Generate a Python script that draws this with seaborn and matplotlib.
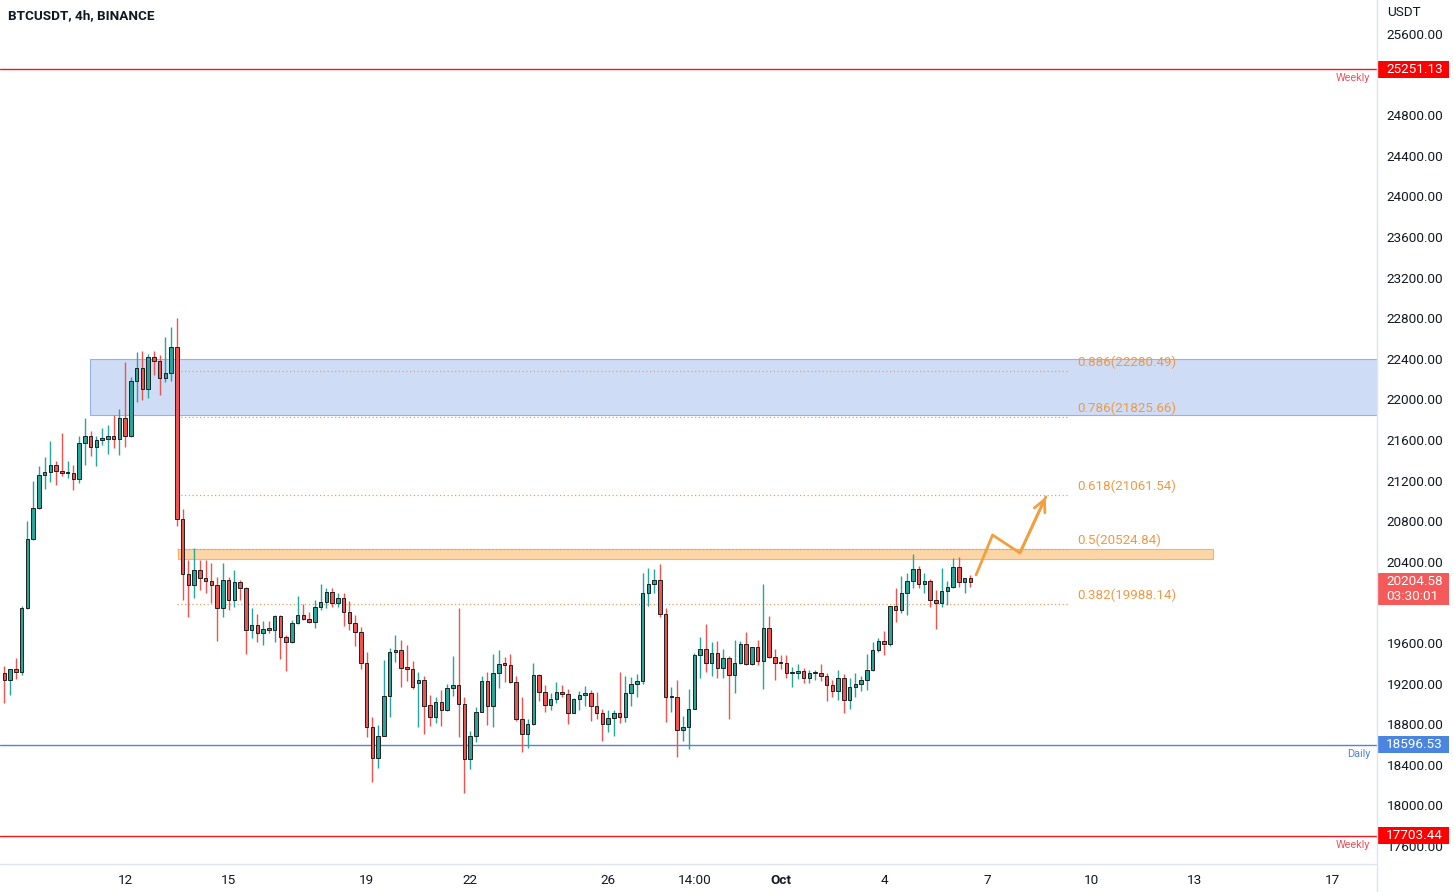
import numpy as np
import pandas as pd
import matplotlib
matplotlib.use("Agg")
import matplotlib.pyplot as plt
import matplotlib.transforms as mtransforms
from matplotlib.patches import Rectangle
from matplotlib.lines import Line2D
import seaborn as sns

# ---------------- data ----------------
start_time = "2022-09-08 14:00"
opens = [19300, 19240, 19340, 19310, 19940, 20620, 20930, 21255, 21285, 21355,
         21290, 21270, 21275, 21215, 21570, 21640, 21530, 21600, 21610, 21640,
         21610, 21820, 21640, 22180, 22305, 22100, 22415, 22380, 22215, 22265,
         22515, 20820, 20280, 20170, 20320, 20240, 20215, 20170, 19940, 20220,
         20020, 20200, 20140, 19730, 19775, 19695, 19740, 19730, 19865, 19660,
         19605, 19795, 19875, 19835, 19805, 19950, 20005, 20100, 19990, 20040,
         19910, 19800, 19710, 19405, 18770, 18465, 18685, 19080, 19515, 19535,
         19350, 19345, 19210, 19235, 18985, 18870, 19020, 18935, 19155, 19185,
         18995, 18455, 18685, 18925, 19225, 18975, 19300, 19390, 19385, 19215,
         18850, 18700, 18800, 19280, 19115, 18985, 19045, 19115, 19095, 18910,
         19045, 19085, 19105, 18975, 18910, 18800, 18860, 18910, 18870, 19105,
         19195, 19225, 20090, 20180, 20220, 19885, 19065, 19065, 18740, 18770,
         18950, 19480, 19540, 19400, 19500, 19350, 19450, 19280, 19400, 19590,
         19390, 19560, 19425, 19745, 19465, 19410, 19400, 19300, 19300, 19325,
         19260, 19300, 19300, 19270, 19185, 19130, 19255, 19040, 19165, 19195,
         19235, 19330, 19530, 19615, 19590, 19965, 19930, 20090, 20210, 20325,
         20180, 20215, 20025, 19990, 20115, 20150, 20345, 20205, 20240]
highs = [19375, 19340, 19455, 19965, 20800, 21200, 21340, 21435, 21590, 21390,
         21670, 21390, 21355, 21640, 21815, 21685, 21640, 21715, 21750, 21850,
         21905, 22370, 22225, 22465, 22480, 22445, 22480, 22440, 22610, 22710,
         22800, 20920, 20420, 20535, 20420, 20420, 20385, 20250, 20385, 20250,
         20320, 20220, 20150, 19940, 19890, 19815, 19820, 19880, 19875, 19680,
         19825, 20065, 19985, 19910, 20025, 20180, 20140, 20140, 20090, 20090,
         20015, 19875, 19755, 19515, 18870, 18795, 19435, 19550, 19680, 19630,
         19580, 19425, 19310, 19270, 19085, 19070, 19135, 19195, 19470, 19940,
         19070, 18730, 18965, 19275, 19310, 19490, 19530, 19460, 19490, 19270,
         19070, 18850, 19405, 19290, 19190, 19110, 19220, 19190, 19145, 19060,
         19130, 19175, 19135, 19120, 18950, 18940, 18940, 19310, 19270, 19265,
         19295, 20285, 20335, 20325, 20380, 19940, 19170, 19235, 18880, 19145,
         19500, 19660, 19790, 19605, 19620, 19540, 19470, 19630, 19620, 19705,
         19560, 19630, 20180, 19865, 19540, 19480, 19480, 19360, 19390, 19350,
         19335, 19335, 19395, 19300, 19240, 19335, 19295, 19255, 19300, 19270,
         19490, 19605, 19645, 19715, 19965, 20140, 20260, 20285, 20475, 20360,
         20285, 20235, 20125, 20335, 20210, 20435, 20445, 20240, 20270]
lows = [19010, 19090, 19250, 19285, 19935, 20610, 20920, 21120, 21185, 21160,
        21250, 21225, 21110, 21175, 21355, 21440, 21345, 21550, 21460, 21525,
        21450, 21535, 21630, 21970, 21995, 22010, 22240, 22045, 22175, 22180,
        20750, 20025, 19860, 20040, 20120, 20090, 19990, 19615, 19855, 19925,
        19950, 20025, 19490, 19645, 19605, 19580, 19700, 19605, 19440, 19320,
        19600, 19790, 19825, 19800, 19745, 19930, 19940, 19950, 19950, 19765,
        19730, 19570, 19340, 18670, 18235, 18365, 18680, 18875, 19415, 19170,
        19230, 19145, 18775, 18700, 18780, 18810, 18785, 18930, 19080, 18670,
        18125, 18355, 18620, 18920, 18790, 18775, 19155, 19220, 19205, 18835,
        18530, 18570, 18790, 19030, 18925, 18935, 19010, 19070, 18800, 18910,
        18935, 18980, 18835, 18850, 18630, 18720, 18680, 18810, 18825, 18975,
        19070, 19195, 19965, 20090, 19860, 18820, 18925, 18475, 18630, 18560,
        18945, 19255, 19310, 19275, 19260, 19260, 18850, 19110, 19390, 19385,
        19380, 19385, 19145, 19450, 19235, 19340, 19260, 19165, 19245, 19205,
        19210, 19240, 19230, 19030, 19070, 19040, 18915, 18945, 19070, 19130,
        19135, 19320, 19510, 19480, 19570, 19810, 19900, 19875, 20140, 20140,
        20090, 19950, 19735, 19950, 19970, 20140, 20155, 20090, 20155]
closes = [19240, 19340, 19310, 19940, 20620, 20930, 21255, 21285, 21355, 21290,
          21270, 21275, 21215, 21570, 21640, 21530, 21600, 21610, 21640, 21610,
          21820, 21640, 22180, 22305, 22100, 22415, 22380, 22215, 22265, 22515,
          20820, 20280, 20170, 20320, 20240, 20215, 20170, 19940, 20220, 20020,
          20200, 20140, 19730, 19775, 19695, 19740, 19730, 19865, 19660, 19605,
          19795, 19875, 19835, 19805, 19950, 20005, 20100, 19990, 20040, 19910,
          19800, 19710, 19405, 18770, 18465, 18685, 19080, 19515, 19535, 19350,
          19345, 19165, 19235, 18980, 18870, 19020, 18935, 19155, 19185, 18995,
          18455, 18685, 18925, 19225, 18975, 19300, 19390, 19385, 19215, 18850,
          18700, 18800, 19280, 19115, 18985, 19045, 19115, 19095, 18910, 19045,
          19085, 19105, 18975, 18910, 18800, 18860, 18910, 18870, 19105, 19195,
          19225, 20090, 20180, 20220, 19885, 19065, 19070, 18740, 18770, 18950,
          19480, 19540, 19400, 19500, 19350, 19450, 19280, 19400, 19590, 19390,
          19560, 19425, 19745, 19465, 19405, 19400, 19300, 19302, 19325, 19260,
          19300, 19302, 19270, 19185, 19130, 19255, 19040, 19165, 19195, 19235,
          19330, 19530, 19615, 19590, 19965, 19930, 20090, 20210, 20325, 20180,
          20215, 20025, 19990, 20115, 20150, 20345, 20205, 20240, 20205]

tick_dates = ["2022-09-12 02:00", "2022-09-15 02:00", "2022-09-19 02:00",
              "2022-09-22 02:00", "2022-09-26 02:00", "2022-09-28 14:00",
              "2022-10-01 02:00", "2022-10-04 02:00", "2022-10-07 02:00",
              "2022-10-10 02:00", "2022-10-13 02:00", "2022-10-17 02:00"]
tick_labels = ["12", "15", "19", "22", "26", "14:00", "Oct", "4", "7", "10", "13", "17"]

price_ticks = list(range(17600, 25601, 400))
hidden_ticks = [25200, 20000]  # covered by the price tags

fib_ratios = ["0.886", "0.786", "0.618", "0.5", "0.382"]
fib_levels = [22280.49, 21825.66, 21061.54, 20524.84, 19988.14]
fib_start, fib_end, fib_label_at = "2022-09-13 14:00", "2022-10-09 10:00", "2022-10-09 16:30"

weekly_levels = [25251.13, 17703.44]
daily_level = 18596.53
last_price = 20204.58
countdown = "03:30:01"

blue_zone = [21850, 22400]
blue_zone_span = ["2022-09-11 01:30", "2022-10-25 00:00"]
orange_zone = [20430, 20525]
orange_zone_span = ["2022-09-13 14:45", "2022-10-13 14:45"]

proj_dates = ["2022-10-06 18:00", "2022-10-07 05:30", "2022-10-08 00:30", "2022-10-08 18:30"]
proj_prices = [20270, 20664, 20487, 21039]

# ---------------- setup ----------------
sns.set_theme(style="white")
plt.rcParams["font.family"] = ["Roboto", "DejaVu Sans"]

t0 = pd.Timestamp(start_time)
step = pd.Timedelta(hours=4)


def to_idx(d):
    return (pd.to_datetime(d) - t0) / step


df = pd.DataFrame({
    "time": pd.date_range(start_time, periods=len(opens), freq="4h"),
    "open": opens, "high": highs, "low": lows, "close": closes,
})
df["x"] = to_idx(df["time"])
df["up"] = df["close"] >= df["open"]

W, H = 1454, 892
fig = plt.figure(figsize=(W / 100, H / 100), dpi=100)
fig.patch.set_facecolor("white")
ax_right = 1377
ax_bottom = 28
ax = fig.add_axes([0, ax_bottom / H, ax_right / W, (H - ax_bottom) / H])
ax.set_facecolor("white")

px_per_price = 812 / 8000.0
y_top = 25600 + 34 / px_per_price
y_bot = 25600 - (864 - 34) / px_per_price
ax.set_ylim(y_bot, y_top)
ax.set_xlim(-0.748, 238.73)
ppx = 1 / px_per_price  # price units per pixel

UP, DN = "#26a69a", "#ef5350"

# zones
bz0, bz1 = to_idx(blue_zone_span[0]), to_idx(blue_zone_span[1])
ax.add_patch(Rectangle((bz0, blue_zone[0]), bz1 - bz0, blue_zone[1] - blue_zone[0],
                       facecolor="#cfdcf6", edgecolor="#93b2ea", lw=0.8, zorder=1))
oz0, oz1 = to_idx(orange_zone_span[0]), to_idx(orange_zone_span[1])
ax.add_patch(Rectangle((oz0, orange_zone[0]), oz1 - oz0, orange_zone[1] - orange_zone[0],
                       facecolor="#fdd6a8", edgecolor="#f6b36a", lw=0.8, zorder=1))

# fib levels
fx0, fx1, fxl = to_idx(fib_start), to_idx(fib_end), to_idx(fib_label_at)
for r, lv in zip(fib_ratios, fib_levels):
    ax.plot([fx0, fx1], [lv, lv], color="#e9a060", lw=0.9, ls=(0, (1, 2)), zorder=1.5)
    ax.annotate(f"{r}({lv:.2f})", xy=(fxl, lv), xytext=(0, 2), textcoords="offset pixels",
                ha="left", va="bottom", fontsize=9.6, color="#ee9a45", zorder=4)

# horizontal levels
for lv in weekly_levels:
    ax.axhline(lv, color="#f01820", lw=1.0, zorder=1.6)
ax.axhline(daily_level, color="#4f84d8", lw=1.0, zorder=1.6)

blend_ax = mtransforms.blended_transform_factory(ax.transAxes, ax.transData)
for lv in weekly_levels:
    ax.annotate("Weekly", xy=(1, lv), xycoords=blend_ax, xytext=(-7, -4),
                textcoords="offset pixels", ha="right", va="top", fontsize=7.8,
                color="#f0505a")
ax.annotate("Daily", xy=(1, daily_level), xycoords=blend_ax, xytext=(-7, -4),
            textcoords="offset pixels", ha="right", va="top", fontsize=7.8,
            color="#4f84d8")

# candles
wick_colors = np.where(df["up"], UP, DN)
ax.vlines(df["x"], df["low"], df["high"], colors=wick_colors, lw=1.0, zorder=2)
bottoms = np.minimum(df["open"], df["close"])
heights = np.maximum(np.abs(df["close"] - df["open"]), 1.5 * ppx)
ax.bar(df["x"], heights, bottom=bottoms, width=0.62, color=wick_colors,
       edgecolor="#202020", linewidth=0.7, zorder=3)

# projection path (seaborn)
pdf = pd.DataFrame({"x": to_idx(proj_dates), "y": proj_prices})
sns.lineplot(data=pdf, x="x", y="y", sort=False, color="#f0a040", lw=2, ax=ax, zorder=4)
ax.annotate("", xy=(pdf.x.iloc[-1], pdf.y.iloc[-1]),
            xytext=(pdf.x.iloc[-2], pdf.y.iloc[-2]),
            arrowprops=dict(arrowstyle="->,head_length=0.7,head_width=0.35",
                            color="#f0a040", lw=2, shrinkA=0, shrinkB=0), zorder=4)
ax.set_xlabel("")
ax.set_ylabel("")

# axes ticks
ax.yaxis.tick_right()
ax.set_yticks(price_ticks)
ax.set_yticklabels(["" if p in hidden_ticks else f"{p:.2f}" for p in price_ticks])
ax.tick_params(axis="y", length=0, pad=7, labelsize=9.7, colors="#131722")
ax.set_xticks(to_idx(tick_dates))
ax.set_xticklabels(tick_labels)
ax.tick_params(axis="x", length=0, pad=7, labelsize=9.7, colors="#131722")
for lab in ax.get_xticklabels():
    if lab.get_text() == "Oct":
        lab.set_fontweight("bold")
for s in ax.spines.values():
    s.set_visible(False)
ax.grid(False)

# separators
fig.add_artist(Line2D([ax_right / W] * 2, [0, 1], color="#e0e3eb", lw=1))
fig.add_artist(Line2D([0, ax_right / W], [ax_bottom / H] * 2, color="#e0e3eb", lw=1))

# price boxes
blend_fig = mtransforms.blended_transform_factory(fig.transFigure, ax.transData)
bx0, bw = 1377 / W, 72 / W


def price_box(price, color, lines, top_px=8.5, bot_px=8.5):
    rect = Rectangle((bx0, price - bot_px * ppx), bw, (top_px + bot_px) * ppx,
                     transform=blend_fig, facecolor=color, edgecolor="none",
                     clip_on=False, zorder=6)
    ax.add_patch(rect)
    for k, t in enumerate(lines):
        ax.text(1386 / W, price - k * 15 * ppx, t, transform=blend_fig, ha="left",
                va="center", fontsize=9.7, color="white", clip_on=False, zorder=7)


price_box(weekly_levels[0], "#ff0000", [f"{weekly_levels[0]:.2f}"])
price_box(weekly_levels[1], "#ff0000", [f"{weekly_levels[1]:.2f}"])
price_box(daily_level, "#4a86e0", [f"{daily_level:.2f}"])
price_box(last_price, "#f45a5a", [f"{last_price:.2f}", countdown], top_px=8.5, bot_px=23.5)

fig.text(1387 / W, 1 - 13 / H, "USDT", ha="left", va="center", fontsize=9.7, color="#131722")
fig.text(8 / W, 1 - 16 / H, "BTCUSDT, 4h, BINANCE", ha="left", va="center",
         fontsize=9.7, fontweight="semibold", color="#131722")

fig.savefig("out.png", dpi=100, facecolor="white")
